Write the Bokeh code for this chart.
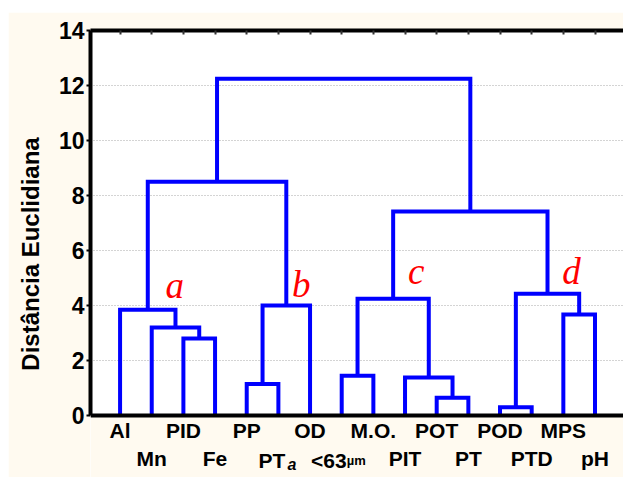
from bokeh.plotting import figure
from bokeh.models import (Range1d, FixedTicker, Label, LabelSet, ColumnDataSource,
                          Spacer, BoxAnnotation, Span)
from bokeh.core.properties import value
from bokeh.layouts import column, row
from bokeh.embed import file_html
from bokeh.resources import INLINE

# ---------------- data ----------------
leaf_labels = ["Al", "Mn", "PID", "Fe", "PP", "PTa", "OD", "<63µm",
               "M.O.", "PIT", "POT", "PT", "POD", "PTD", "MPS", "pH"]
# linkage: node ids 0..15 are leaves, merge k creates node 16+k
merge_left = [2, 1, 0, 4, 19, 18, 7, 10, 9, 22, 12, 14, 26, 25, 21]
merge_right = [3, 16, 17, 5, 6, 20, 8, 11, 23, 24, 13, 15, 27, 28, 29]
merge_height = [2.8, 3.2, 3.85, 1.15, 4.0, 8.5, 1.45, 0.65, 1.38, 4.25,
                0.3, 3.67, 4.43, 7.42, 12.25]
y_ticks = [0, 2, 4, 6, 8, 10, 12, 14]
cluster_letters = ["a", "b", "c", "d"]
cluster_nodes = [18, 20, 25, 28]

# ---------------- dendrogram geometry from linkage ----------------
n = len(leaf_labels)
node_x = {i: float(i) for i in range(n)}
node_h = {i: 0.0 for i in range(n)}
xs, ys = [], []
for k, (l, r, h) in enumerate(zip(merge_left, merge_right, merge_height)):
    nid = n + k
    xs.append([node_x[l], node_x[l], node_x[r], node_x[r]])
    ys.append([node_h[l], h, h, node_h[r]])
    node_x[nid] = (node_x[l] + node_x[r]) / 2
    node_h[nid] = h

CREAM = "#FFFAF0"
FONT = "Liberation Sans"
PXU = 27.5  # pixels per distance unit (frame 447px tall)

p = figure(width=615, height=465,
           x_range=Range1d(-0.934, 15.9), y_range=Range1d(-62 / PXU, 14),
           x_axis_location="above",
           output_backend="svg", toolbar_location=None)
p.min_border_left = 82
p.min_border_right = 0
p.min_border_top = 18
p.min_border_bottom = 0
p.background_fill_color = "white"
p.border_fill_color = CREAM
p.outline_line_color = None

p.xgrid.visible = False
p.ygrid.ticker = FixedTicker(ticks=y_ticks)
p.ygrid.grid_line_color = "#A8A8A8"
p.ygrid.grid_line_dash = "1 2"
p.ygrid.grid_line_width = 1

ya = p.yaxis[0]
ya.ticker = FixedTicker(ticks=y_ticks)
ya.bounds = (0, 14)
ya.axis_line_width = 4
ya.axis_line_color = "black"
ya.major_tick_out = 4
ya.major_tick_in = 0
ya.major_tick_line_width = 2
ya.minor_tick_out = 0
ya.minor_tick_in = 0
ya.major_label_standoff = 2
ya.major_label_text_font = FONT
ya.major_label_text_font_style = "bold"
ya.major_label_text_font_size = "23px"
ya.major_label_text_color = "black"
ya.axis_label = "Distância Euclidiana"
ya.axis_label_text_font = FONT
ya.axis_label_text_font_style = "bold"
ya.axis_label_text_font_size = "24px"
ya.axis_label_text_color = "black"
ya.axis_label_standoff = 12

# top frame line with small inward ticks at every leaf (minor ticks: no labels)
top = p.xaxis[0]
top.ticker = FixedTicker(ticks=[], minor_ticks=list(range(n)))
top.axis_line_width = 4
top.axis_line_color = "black"
top.major_tick_in = 0
top.major_tick_out = 0
top.minor_tick_in = 4
top.minor_tick_out = 0
top.minor_tick_line_width = 2
top.minor_tick_line_color = "#333333"
top.major_label_standoff = 0

p.multi_line(xs, ys, line_color="#0000FF", line_width=4, line_join="miter")

# cream area below the baseline (label band) and the baseline itself
p.add_layout(BoxAnnotation(top=0, fill_color=CREAM, fill_alpha=1.0, line_color=None))
p.add_layout(Span(location=0, dimension="width", line_color="black", line_width=4))

# ---------------- leaf labels (two staggered rows) ----------------
row_base = [-22 / PXU, -50 / PXU]
# main text, suffix, suffix style, suffix size, main x-offset, suffix x-offset, suffix dy(px)
special = {"PTa": ("PT", "a", "bold italic", "16px", 7, 9, -4),
           "<63µm": ("<63", "µm", "bold", "13px", 5, 5, 0)}
LABEL_FIX = 5 / PXU   # Label annotations sit a few px low; lift them
plain_x, plain_y, plain_t = [], [], []
for i, name in enumerate(leaf_labels):
    yb = row_base[i % 2]
    if name in special:
        main, suf, style, size, off_main, off_suf, dy = special[name]
        p.add_layout(Label(x=i, y=yb + LABEL_FIX, text=main, x_offset=off_main,
                           text_align="right", text_baseline="alphabetic",
                           text_font=FONT, text_font_style="bold",
                           text_font_size="21px", text_color="black"))
        p.add_layout(Label(x=i, y=yb + LABEL_FIX + dy / PXU, text=suf, x_offset=off_suf,
                           text_align="left", text_baseline="alphabetic",
                           text_font=FONT, text_font_style=style,
                           text_font_size=size, text_color="black"))
    else:
        plain_x.append(i)
        plain_y.append(yb)
        plain_t.append(name)
src = ColumnDataSource(dict(x=plain_x, y=plain_y, t=plain_t))
p.add_layout(LabelSet(x="x", y="y", text="t", source=src,
                      text_align=value("center"), text_baseline=value("alphabetic"),
                      text_font=value(FONT), text_font_style=value("bold"),
                      text_font_size=value("21px"), text_color=value("black")))

# ---------------- cluster letters ----------------
letter_dx = [27, 15, 23, 24]    # px right of the cluster's stem
letter_dy = [24, 21, 27, 22]    # px above the cluster's link
for letter, nid, dx, dy in zip(cluster_letters, cluster_nodes, letter_dx, letter_dy):
    p.add_layout(Label(x=node_x[nid], y=node_h[nid] + dy / PXU, text=letter,
                       x_offset=dx,
                       text_align="center", text_baseline="alphabetic",
                       text_font="Liberation Serif", text_font_style="italic",
                       text_font_size="37px", text_color="#FF0000"))

layout = column(Spacer(height=12), row(Spacer(width=8), p))
open("out.html", "w").write(file_html(layout, INLINE))
